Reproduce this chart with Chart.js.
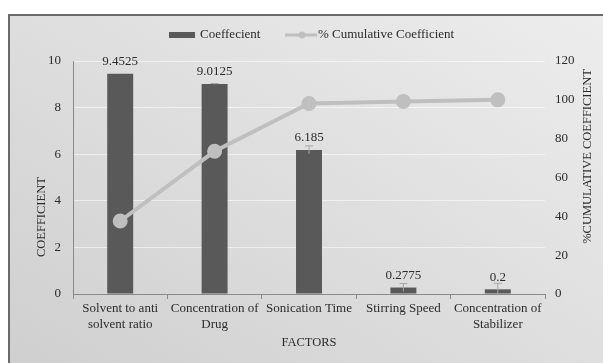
<!DOCTYPE html>
<html>
<head>
<meta charset="utf-8">
<script src="https://cdn.jsdelivr.net/npm/chart.js@4/dist/chart.umd.min.js"></script>
<style>
  html, body { margin: 0; padding: 0; background: #ffffff; overflow: hidden; }
  #frame {
    position: absolute; left: 8px; top: 14px; width: 640px; height: 400px;
    border-left: 2px solid #6a6a6a; border-top: 2px solid #6a6a6a;
    background: linear-gradient(to top right, #cdcdcd 0%, #dcdcdc 45%, #eeeeee 100%);
  }
  #wrap { position: absolute; left: 0; top: 0; width: 603px; height: 363px; }
</style>
</head>
<body>
<div id="frame"></div>
<div id="wrap"><canvas id="chart" width="603" height="363"></canvas></div>
<script>
// Factors and their coefficients
const categories = [
  ['Solvent to anti', 'solvent ratio'],
  ['Concentration of', 'Drug'],
  'Sonication Time',
  'Stirring Speed',
  ['Concentration of', 'Stabilizer']
];
const coefficient = [9.4525, 9.0125, 6.185, 0.2775, 0.2];
const coefficientError = [0, 0.02, 0.17, 0.17, 0.26];
const cumulativePercent = [37.6, 73.5, 98.1, 99.2, 100];
const leftTicks = [0, 2, 4, 6, 8, 10];
const rightTicks = [0, 20, 40, 60, 80, 100, 120];

const FONT = '"Liberation Serif", "Times New Roman", serif';
const TEXT = '#2b2b2b';
const BAR = '#595959';
const LINE = '#bfbfbf';

// Whiskers on top of the bars
const errorBars = {
  id: 'errorBars',
  afterDatasetDraw(chart, args) {
    if (args.index !== 0) return;
    const ctx = chart.ctx, y = chart.scales.y;
    const meta = chart.getDatasetMeta(0);
    ctx.save();
    ctx.strokeStyle = '#a6a6a6';
    ctx.lineWidth = 1;
    meta.data.forEach((bar, i) => {
      const e = coefficientError[i];
      if (!e) return;
      const top = y.getPixelForValue(coefficient[i] + e);
      const bot = y.getPixelForValue(coefficient[i] - e);
      ctx.beginPath();
      ctx.moveTo(bar.x, top); ctx.lineTo(bar.x, bot);
      ctx.moveTo(bar.x - 4, top); ctx.lineTo(bar.x + 4, top);
      ctx.stroke();
    });
    ctx.restore();
  }
};

// Value labels, titles and legend
const decorations = {
  id: 'decorations',
  afterDraw(chart) {
    const ctx = chart.ctx, a = chart.chartArea;
    ctx.save();
    ctx.fillStyle = TEXT;
    ctx.font = '13px ' + FONT;
    ctx.textAlign = 'center';
    ctx.textBaseline = 'middle';
    chart.getDatasetMeta(0).data.forEach((bar, i) => {
      ctx.fillText(String(coefficient[i]), bar.x, bar.y - 12);
    });

    // axis titles
    ctx.font = '12.5px ' + FONT;
    ctx.fillText('FACTORS', (a.left + a.right) / 2, a.bottom + 49);
    ctx.save();
    ctx.translate(a.left - 31, a.top + (a.bottom - a.top) * 0.67);
    ctx.rotate(-Math.PI / 2);
    ctx.fillText('COEFFICIENT', 0, 0);
    ctx.restore();
    ctx.save();
    ctx.translate(a.right + 43, a.top + (a.bottom - a.top) * 0.41);
    ctx.rotate(-Math.PI / 2);
    ctx.fillText('%CUMULATIVE COEFFICIENT', 0, 0);
    ctx.restore();

    // legend
    const ly = 35;
    const ds = chart.data.datasets;
    ctx.textAlign = 'left';
    ctx.font = '13px ' + FONT;
    ctx.fillStyle = BAR;
    ctx.fillRect(169, ly - 3, 26, 6);
    ctx.fillStyle = TEXT;
    ctx.fillText(ds[0].label, 200, ly);
    ctx.strokeStyle = LINE;
    ctx.lineWidth = 3;
    ctx.beginPath(); ctx.moveTo(285, ly); ctx.lineTo(317, ly); ctx.stroke();
    ctx.fillStyle = LINE;
    ctx.beginPath(); ctx.arc(302, ly, 3.5, 0, Math.PI * 2); ctx.fill();
    ctx.fillStyle = TEXT;
    ctx.fillText(ds[1].label, 318, ly);
    ctx.restore();
  }
};

new Chart(document.getElementById('chart'), {
  type: 'bar',
  data: {
    labels: categories,
    datasets: [
      {
        type: 'bar',
        label: 'Coeffecient',
        data: coefficient,
        backgroundColor: BAR,
        yAxisID: 'y',
        barPercentage: 0.275,
        categoryPercentage: 1,
        order: 1
      },
      {
        type: 'line',
        label: '% Cumulative Coefficient',
        data: cumulativePercent,
        borderColor: LINE,
        backgroundColor: LINE,
        borderWidth: 4,
        pointRadius: 5.5,
        pointBackgroundColor: LINE,
        pointBorderColor: LINE,
        yAxisID: 'y1',
        tension: 0,
        order: 0
      }
    ]
  },
  options: {
    responsive: false,
    animation: false,
    layout: { padding: { top: 61, left: 0, right: 0, bottom: 0 } },
    plugins: { legend: { display: false }, tooltip: { enabled: false } },
    scales: {
      x: {
        grid: { display: true, drawOnChartArea: false, offset: true, tickLength: 5, color: '#8a8a8a' },
        border: { display: true, color: '#8a8a8a', width: 1 },
        ticks: { color: TEXT, font: { family: FONT, size: 13 }, padding: 2, maxRotation: 0, autoSkip: false },
        afterFit(s) { s.height = 69; }
      },
      y: {
        position: 'left',
        min: 0, max: 10,
        afterBuildTicks(s) { s.ticks = leftTicks.map(v => ({ value: v })); },
        grid: { color: 'rgba(255,255,255,0.55)', drawTicks: false },
        border: { display: true, color: '#8a8a8a', width: 1 },
        ticks: { color: TEXT, font: { family: FONT, size: 13 }, padding: 12 },
        afterFit(s) { s.width = 73; }
      },
      y1: {
        position: 'right',
        min: 0, max: 120,
        afterBuildTicks(s) { s.ticks = rightTicks.map(v => ({ value: v })); },
        grid: { display: false, drawTicks: false },
        border: { display: false },
        ticks: { color: TEXT, font: { family: FONT, size: 13 }, padding: 10 },
        afterFit(s) { s.width = 58; }
      }
    }
  },
  plugins: [errorBars, decorations]
});
</script>
</body>
</html>
